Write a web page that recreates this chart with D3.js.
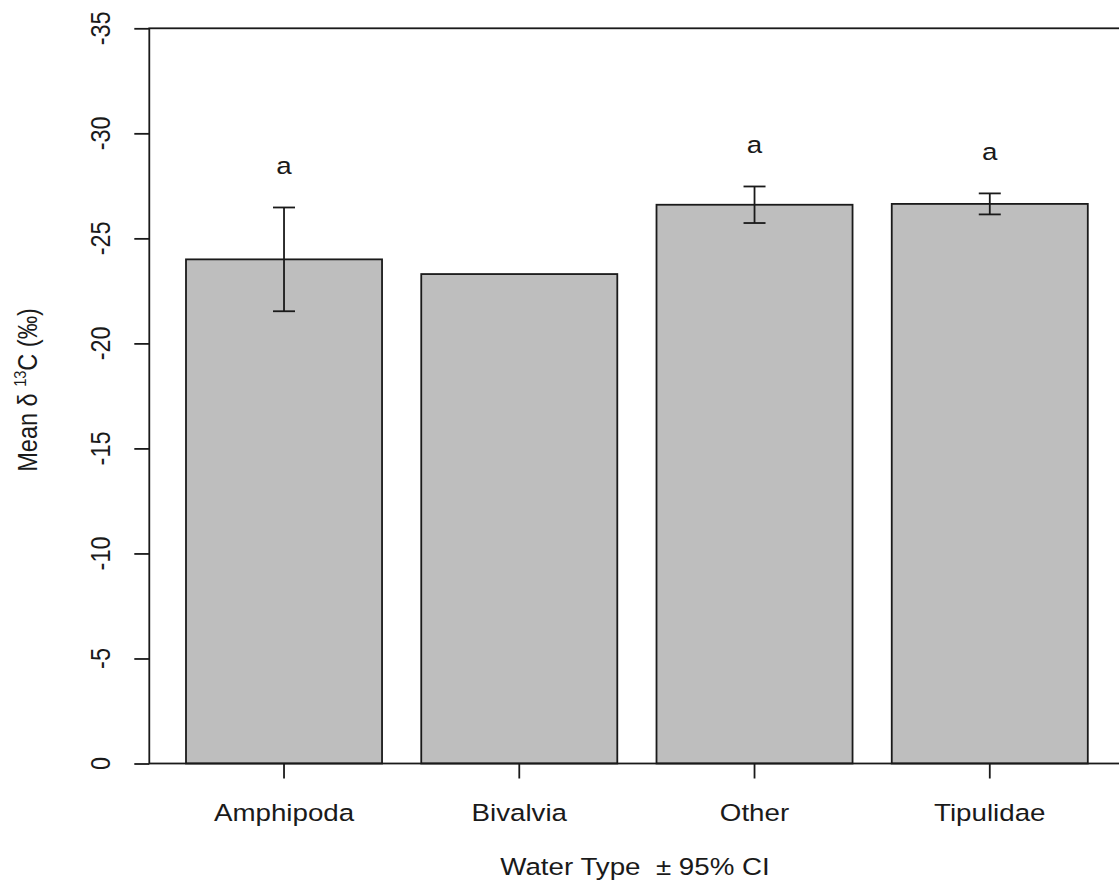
<!DOCTYPE html>
<html>
<head>
<meta charset="utf-8">
<script src="https://cdn.jsdelivr.net/npm/d3@7"></script>
<style>
  body { margin: 0; background: #fff; }
  text { font-family: "Liberation Sans", Arial, sans-serif; fill: #1a1a1a; white-space: pre; }
</style>
</head>
<body>
<svg id="chart" width="1119" height="896"></svg>
<script>
// Mean δ13C by group with 95% CI half-widths
const categories = ["Amphipoda", "Bivalvia", "Other", "Tipulidae"];
const meanValues = [-24.0, -23.3, -26.6, -26.64];
const ciHalfWidths = [2.47, null, 0.87, 0.5];
const groupLetters = ["a", null, "a", "a"];
const yTickValues = [0, -5, -10, -15, -20, -25, -30, -35];

const xTitle = "Water Type  \u00B1 95% CI";

const svg = d3.select("#chart");
const ink = "#1a1a1a";
const fontSize = 23.5;
const stretch = 1.18;   // glyphs are drawn slightly wide

const plot = { left: 149.3, right: 1124.5, top: 28.3, bottom: 763.5 };

const x = d3.scaleBand()
  .domain(categories)
  .range([plot.left, plot.right])
  .paddingInner(0.2 / 1.2)
  .paddingOuter(0.156);

const y = d3.scaleLinear()
  .domain([0, -35])
  .range([plot.bottom, plot.top]);

const rows = categories.map((c, i) => ({
  cat: c, mean: meanValues[i], ci: ciHalfWidths[i], letter: groupLetters[i]
}));

// bars
svg.append("g").selectAll("rect")
  .data(rows)
  .join("rect")
  .attr("x", d => x(d.cat))
  .attr("width", x.bandwidth())
  .attr("y", d => y(d.mean))
  .attr("height", d => y(0) - y(d.mean))
  .attr("fill", "#bebebe")
  .attr("stroke", ink)
  .attr("stroke-width", 1.8);

// error bars
const withCi = rows.filter(d => d.ci != null);
const eb = svg.append("g").attr("stroke", ink).attr("stroke-width", 1.8).attr("fill", "none");
const capHalf = 11;
withCi.forEach(d => {
  const cx = x(d.cat) + x.bandwidth() / 2;
  const yTop = y(d.mean - d.ci), yBot = y(d.mean + d.ci);
  eb.append("line").attr("x1", cx).attr("x2", cx).attr("y1", yTop).attr("y2", yBot);
  eb.append("line").attr("x1", cx - capHalf).attr("x2", cx + capHalf).attr("y1", yTop).attr("y2", yTop);
  eb.append("line").attr("x1", cx - capHalf).attr("x2", cx + capHalf).attr("y1", yBot).attr("y2", yBot);
});

// helper for stretched text
function label(px, py, str, rotate) {
  return svg.append("text")
    .attr("transform", `translate(${px},${py}) scale(${stretch},1)` + (rotate ? " rotate(-90)" : ""))
    .attr("text-anchor", "middle")
    .attr("font-size", fontSize)
    .text(str);
}

// group letters above CI
rows.filter(d => d.letter).forEach(d => {
  const cx = x(d.cat) + x.bandwidth() / 2;
  const top = d.ci != null ? y(d.mean - d.ci) : y(d.mean);
  label(cx, top - 33, d.letter, false);
});

// plot frame
svg.append("rect")
  .attr("x", plot.left).attr("y", plot.top)
  .attr("width", plot.right - plot.left).attr("height", plot.bottom - plot.top)
  .attr("fill", "none").attr("stroke", ink).attr("stroke-width", 1.8);

// y axis
const yAxis = d3.axisLeft(y).tickValues(yTickValues).tickSize(15).tickFormat("");
const yg = svg.append("g").attr("transform", `translate(${plot.left},0)`).call(yAxis);
yg.select(".domain").remove();
yg.selectAll(".tick line").attr("stroke", ink).attr("stroke-width", 1.8);
yTickValues.forEach(v => label(110, y(v), String(v), true));

// x axis ticks
const xAxis = d3.axisBottom(x).tickSize(15).tickFormat("");
const xg = svg.append("g").attr("transform", `translate(0,${plot.bottom})`).call(xAxis);
xg.select(".domain").remove();
xg.selectAll(".tick line").attr("stroke", ink).attr("stroke-width", 1.8);
categories.forEach(c => label(x(c) + x.bandwidth() / 2, 821, c, false));

// axis titles
label(635, 875, xTitle, false);

const yt = svg.append("text")
  .attr("transform", `translate(37,${(plot.top + plot.bottom) / 2 - 6}) scale(${stretch},1) rotate(-90)`)
  .attr("text-anchor", "middle")
  .attr("font-size", fontSize);
yt.append("tspan").text("Mean \u03B4 ");
yt.append("tspan").attr("font-size", fontSize * 0.62).attr("dy", -9).text("13");
yt.append("tspan").attr("dy", 9).text("C (\u2030)");
</script>
</body>
</html>
